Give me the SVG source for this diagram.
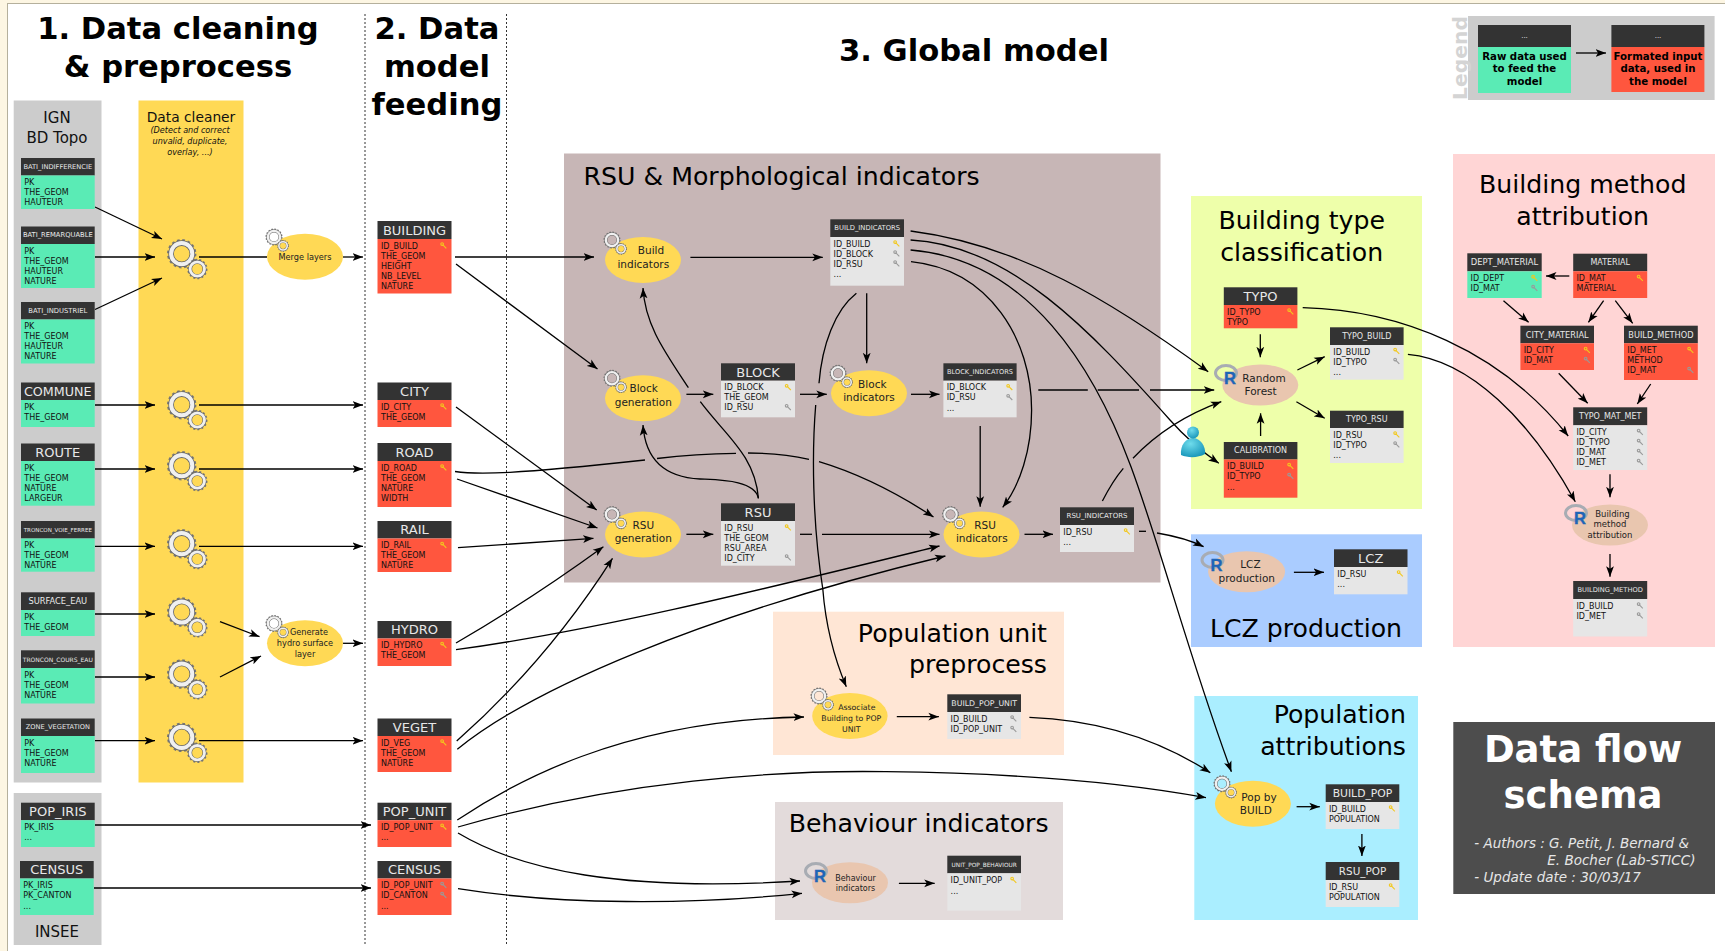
<svg xmlns="http://www.w3.org/2000/svg" width="1725" height="951" viewBox="0 0 1725 951">
<style>
text{font-family:"DejaVu Sans","Liberation Sans",sans-serif}
.hd{fill:#333}
.gn{fill:#5aebb5}
.rd{fill:#ff563e}
.gy{fill:#e6e6e6}
.ht{fill:#e8e8e8;text-anchor:middle;dominant-baseline:central}
.b{font-size:8px;fill:#111}
.ky{stroke:#f2c81e;fill:none;stroke-width:1.1}
.kg{stroke:#9a9a9a;fill:none;stroke-width:1.1}
.ty{fill:#ffd955}
.tr{fill:#e9c6af}
.e{fill:#222;text-anchor:middle}
.e8{font-size:8.2px}
.e10{font-size:10.5px}
.pt{font-size:25.2px;fill:#000}
.m{text-anchor:middle}
.big{font-size:30.6px;font-weight:bold;text-anchor:middle;fill:#000}
.c path,.c line{fill:none;stroke:#000;stroke-width:1.3}
.a{marker-end:url(#ar)}
.lg{font-size:10.2px;font-weight:bold;text-anchor:middle;fill:#000}
</style>
<defs>
<marker id="ar" markerUnits="userSpaceOnUse" markerWidth="12" markerHeight="9" refX="10.5" refY="4.5" orient="auto"><path d="M10.5,4.5 L0,0.6 L2.6,4.5 L0,8.4 Z" fill="#000"/></marker>
<radialGradient id="ub" cx=".4" cy=".3" r=".8"><stop offset="0" stop-color="#6fdcec"/><stop offset="1" stop-color="#0f8fb5"/></radialGradient>
<g id="k1"><circle cx="-1.4" cy="-1.4" r="1.3"/><path d="M-.6,-.6 L2.8,2.8"/></g>
<g id="g1"><circle r="13.2" fill="none" stroke="#777" stroke-width="3" stroke-dasharray="2.6 2.6"/><circle r="10.6" fill="none" stroke="#666" stroke-width="5.6"/><circle r="10.6" fill="none" stroke="#f0f0f0" stroke-width="4"/></g>
<g id="g2"><circle r="9" fill="none" stroke="#777" stroke-width="2.4" stroke-dasharray="2 2"/><circle r="7.2" fill="none" stroke="#666" stroke-width="4"/><circle r="7.2" fill="none" stroke="#f0f0f0" stroke-width="2.8"/></g>
<g id="gr"><use href="#g1"/><use href="#g2" x="15.6" y="15.3"/></g>
<g id="rl"><ellipse cx="-4" cy="-5" rx="10.5" ry="7.5" fill="none" stroke="#a8acb3" stroke-width="3"/><text x="0" y="5.5" font-size="16.5" font-weight="bold" fill="#1f65b7" stroke="#1f65b7" stroke-width=".4" text-anchor="middle" style="font-family:'Liberation Sans',sans-serif">R</text></g>
</defs>

<rect width="1725" height="951" fill="#fdf6e3"/>
<rect x="7.5" y="3.5" width="1718" height="948" fill="#fff" stroke="#b5b09c" stroke-width="1"/>

<g id="panels">
<rect x="13.7" y="100.5" width="87.8" height="682" fill="#ccc"/>
<rect x="13.7" y="793" width="87.8" height="152" fill="#ccc"/>
<rect x="138.5" y="100.5" width="105" height="682" fill="#ffd955"/>
<rect x="564" y="153.5" width="596.5" height="429" fill="#c7b6b6"/>
<rect x="1191" y="196" width="231" height="313" fill="#eeffaa"/>
<rect x="1453" y="154" width="262" height="493" fill="#ffd5d5"/>
<rect x="1191" y="534.3" width="231" height="112.7" fill="#aaccff"/>
<rect x="773" y="611.7" width="291" height="143.3" fill="#ffe6d5"/>
<rect x="775" y="802" width="288" height="118" fill="#e3dbdb"/>
<rect x="1194.3" y="696" width="223.7" height="224" fill="#aaeeff"/>
<rect x="1468" y="16" width="246.6" height="84" fill="#ccc"/>
<line x1="365" y1="14" x2="365" y2="945" stroke="#333" stroke-dasharray="2 2"/>
<line x1="506.5" y1="14" x2="506.5" y2="945" stroke="#333" stroke-dasharray="2 2"/>
</g>

<g id="titles">
<text class="big" x="178" y="38.5">1. Data cleaning</text>
<text class="big" x="178" y="77">&amp; preprocess</text>
<text class="big" x="437" y="38.5">2. Data</text>
<text class="big" x="437" y="77">model</text>
<text class="big" x="437" y="115">feeding</text>
<text class="big" x="974" y="61">3. Global model</text>
<text class="m" x="57" y="123" font-size="15" fill="#111">IGN</text>
<text class="m" x="57" y="142.7" font-size="15" fill="#111">BD Topo</text>
<text class="m" x="57" y="937.3" font-size="15" fill="#111">INSEE</text>
<text class="m" x="191" y="121.7" font-size="13.8" fill="#111">Data cleaner</text>
<text class="m" x="190" y="133.3" font-size="8.1" font-style="italic" fill="#111">(Detect and correct</text>
<text class="m" x="190" y="144" font-size="8.1" font-style="italic" fill="#111">unvalid, duplicate,</text>
<text class="m" x="190" y="154.7" font-size="8.1" font-style="italic" fill="#111">overlay, ...)</text>
<text class="pt" x="583.6" y="185">RSU &amp; Morphological indicators</text>
<text class="pt m" x="1301.7" y="229">Building type</text>
<text class="pt m" x="1301.7" y="260.7">classification</text>
<text class="pt m" x="1582.7" y="193">Building method</text>
<text class="pt m" x="1582.7" y="225">attribution</text>
<text class="pt m" x="1306" y="636.7">LCZ production</text>
<text class="pt" text-anchor="end" x="1047" y="641.7">Population unit</text>
<text class="pt" text-anchor="end" x="1047" y="673.3">preprocess</text>
<text class="pt m" x="918.7" y="831.7">Behaviour indicators</text>
<text class="pt" text-anchor="end" x="1406" y="723.3">Population</text>
<text class="pt" text-anchor="end" x="1406" y="755">attributions</text>
<text x="1467" y="58" text-anchor="middle" font-size="20.3" font-weight="bold" fill="#d4d4d4" transform="rotate(-90 1467 58)">Legend</text>
</g>

<g id="connectors" class="c">
<line class="a" x1="95" y1="207" x2="162" y2="239"/>
<line class="a" x1="95" y1="257" x2="155" y2="257"/>
<line class="a" x1="95" y1="309.5" x2="162" y2="278"/>
<line class="a" x1="95" y1="405" x2="155" y2="405"/>
<line class="a" x1="199" y1="405" x2="363" y2="405"/>
<line class="a" x1="95" y1="469" x2="155" y2="469"/>
<line class="a" x1="199" y1="469" x2="363" y2="469"/>
<line class="a" x1="95" y1="546.3" x2="155" y2="546.3"/>
<line class="a" x1="199" y1="546.3" x2="363" y2="546.3"/>
<line class="a" x1="95" y1="614" x2="155" y2="614"/>
<line class="a" x1="95" y1="677" x2="155" y2="677"/>
<line class="a" x1="95" y1="740.7" x2="155" y2="740.7"/>
<line class="a" x1="199" y1="740.7" x2="363" y2="740.7"/>
<line x1="199" y1="257" x2="267" y2="257"/>
<line class="a" x1="343" y1="257" x2="363" y2="257"/>
<line class="a" x1="220" y1="621.7" x2="259.5" y2="636.7"/>
<line class="a" x1="220" y1="677" x2="261" y2="656"/>
<line class="a" x1="343" y1="643.3" x2="363" y2="643.3"/>
<line class="a" x1="95" y1="825" x2="371" y2="825"/>
<line class="a" x1="94" y1="888" x2="371" y2="888"/>

<line class="a" x1="455" y1="257" x2="594" y2="257"/>
<line class="a" x1="456" y1="264" x2="597.5" y2="369"/>
<line class="a" x1="456" y1="407" x2="596.7" y2="510"/>
<path d="M455,471.5 C478,475 515,474 645,460"/>
<path d="M657,458.5 C685,455 710,453.5 736,453.3"/>
<path d="M748,453 C770,453 790,455 809,459.3"/>
<path class="a" d="M819,461.7 C860,474 900,495 933.5,517"/>
<line class="a" x1="457" y1="479" x2="597.5" y2="528"/>
<line class="a" x1="458" y1="547.7" x2="593.5" y2="538.3"/>
<path class="a" d="M456,643 Q530,600 603.4,546.7"/>
<path class="a" d="M456,649.7 C600,630 760,590 939.5,546"/>
<path class="a" d="M456.7,741 C520,685 570,625 612.5,558.3"/>
<path class="a" d="M457.3,749.3 C530,690 700,615 945.4,556"/>
<path class="a" d="M457.3,820 C510,785 620,720 804,717"/>
<path class="a" d="M458,827 C620,780 780,770 886,771.7 C1000,773 1110,780 1206,797.7"/>
<path class="a" d="M458,833 C520,870 620,892 800,881"/>
<path class="a" d="M458,888.7 C560,905 690,905 802,893.3"/>

<line class="a" x1="690.4" y1="257.3" x2="822.8" y2="257.3"/>
<line class="a" x1="866.7" y1="293.3" x2="866.7" y2="363.3"/>
<path d="M856.4,293.3 C835,310 822,345 819,383.3"/>
<path class="a" d="M815.7,405 C812,450 812,520 822.8,589 C826,630 835,660 846.3,686.7"/>
<line class="a" x1="686.4" y1="394.3" x2="713.3" y2="394.3"/>
<path class="a" d="M688.4,387.7 C665,352 645,325 643,288"/>
<path class="a" d="M758.4,498.3 C755,480 720,480 700,479 C660,477 645,455 643,425"/>
<path d="M758.4,498.3 C755,455 725,435 700.3,401.7"/>
<line class="a" x1="686.4" y1="534.3" x2="713.3" y2="534.3"/>
<path d="M800,534.3 H812"/>
<line class="a" x1="822" y1="534.3" x2="939.5" y2="534.3"/>
<line class="a" x1="800" y1="394.3" x2="826.8" y2="394.3"/>
<line class="a" x1="911" y1="394.3" x2="939.5" y2="394.3"/>
<line class="a" x1="980.2" y1="426" x2="980.2" y2="506.7"/>
<path class="a" d="M911,261.7 C990,270 1031.6,340 1031.6,410 C1031.6,450 1020,485 1002.7,507.3"/>
<line class="a" x1="1024.5" y1="534.3" x2="1053" y2="534.3"/>
<path d="M1038.3,390 H1087.8"/>
<path d="M1097.7,390 H1139"/>
<line class="a" x1="1150" y1="390" x2="1214.2" y2="390"/>
<path d="M1139,531.3 H1146"/>
<path class="a" d="M1157,533 C1175,536 1190,540 1203.6,546.7"/>
<path d="M1102.4,501 C1108,490 1115,478 1123.3,468.3"/>
<path class="a" d="M1133,458.3 C1155,435 1185,415 1221.3,401.7"/>
<path class="a" d="M910.6,231 C1020,245 1110,300 1208.2,371.7"/>
<path class="a" d="M910.6,240 C1010,245 1090,330 1170,420 C1185,437 1200,450 1218.8,463.3"/>
<path class="a" d="M910.6,250 C1030,260 1095,370 1131,466.7 C1160,545 1190,660 1231.4,771.7"/>

<line class="a" x1="1260.3" y1="334.3" x2="1260.3" y2="357.3"/>
<line class="a" x1="1260.6" y1="436" x2="1260.6" y2="413.3"/>
<line class="a" x1="1297.4" y1="370" x2="1324.7" y2="356.7"/>
<line class="a" x1="1296.4" y1="401.7" x2="1324.7" y2="418.3"/>
<path class="a" d="M1302.7,307.7 C1400,310 1500,350 1568.2,436"/>
<path class="a" d="M1407.9,354.3 C1470,360 1530,420 1575.3,501.7"/>
<line class="a" x1="1569.3" y1="276" x2="1546" y2="276"/>
<line class="a" x1="1503.5" y1="300.7" x2="1528.6" y2="322.3"/>
<line class="a" x1="1603.6" y1="300.7" x2="1588.4" y2="322.3"/>
<line class="a" x1="1615.3" y1="300.7" x2="1632.7" y2="323.3"/>
<line class="a" x1="1558.7" y1="373.3" x2="1587.7" y2="403.3"/>
<line class="a" x1="1650.7" y1="384" x2="1637.3" y2="404"/>
<line class="a" x1="1610" y1="474.3" x2="1610" y2="497.3"/>
<line class="a" x1="1610" y1="554" x2="1610" y2="576.7"/>
<line class="a" x1="1293.9" y1="572.3" x2="1324" y2="572.3"/>
<line class="a" x1="896.8" y1="716.7" x2="938.9" y2="716.7"/>
<path class="a" d="M1029.4,717.3 C1100,720 1160,740 1210.3,772.7"/>
<line class="a" x1="1296.6" y1="806.7" x2="1319.8" y2="806.7"/>
<line class="a" x1="1361.9" y1="834" x2="1361.9" y2="856"/>
<line class="a" x1="898.9" y1="883.3" x2="934.7" y2="883.3"/>
<line class="a" x1="1576" y1="53" x2="1606" y2="53"/>
</g>

<g id="cleaner-gears">
<use href="#gr" transform="translate(181.7,253.7)"/>
<use href="#gr" transform="translate(181.7,404.7)"/>
<use href="#gr" transform="translate(181.7,465.7)"/>
<use href="#gr" transform="translate(181.7,543.7)"/>
<use href="#gr" transform="translate(181.7,612)"/>
<use href="#gr" transform="translate(181.7,674)"/>
<use href="#gr" transform="translate(181.7,737.4)"/>
</g>

<g id="n-bati-ind"><rect class="hd" x="21" y="158" width="73.7" height="17.5"/><rect class="gn" x="21" y="175.5" width="73.7" height="33.5"/><text class="ht" x="57.8" y="166.7" font-size="6.7">BATI_INDIFFERENCIE</text><text class="b" x="24.3" y="185">PK</text><text class="b" x="24.3" y="195">THE_GEOM</text><text class="b" x="24.3" y="205">HAUTEUR</text></g>
<g id="n-bati-rem"><rect class="hd" x="21" y="226.5" width="73.7" height="17.5"/><rect class="gn" x="21" y="244" width="73.7" height="44"/><text class="ht" x="57.8" y="235.2" font-size="6.75">BATI_REMARQUABLE</text><text class="b" x="24.3" y="253.5">PK</text><text class="b" x="24.3" y="263.5">THE_GEOM</text><text class="b" x="24.3" y="273.5">HAUTEUR</text><text class="b" x="24.3" y="283.5">NATURE</text></g>
<g id="n-bati-indus"><rect class="hd" x="21" y="302" width="73.7" height="17.5"/><rect class="gn" x="21" y="319.5" width="73.7" height="44"/><text class="ht" x="57.8" y="310.7" font-size="6.8">BATI_INDUSTRIEL</text><text class="b" x="24.3" y="329">PK</text><text class="b" x="24.3" y="339">THE_GEOM</text><text class="b" x="24.3" y="349">HAUTEUR</text><text class="b" x="24.3" y="359">NATURE</text></g>
<g id="n-commune"><rect class="hd" x="21" y="382.5" width="73.7" height="17.5"/><rect class="gn" x="21" y="400" width="73.7" height="27"/><text class="ht" x="57.8" y="391.2" font-size="12.7">COMMUNE</text><text class="b" x="24.3" y="409.5">PK</text><text class="b" x="24.3" y="419.5">THE_GEOM</text></g>
<g id="n-route"><rect class="hd" x="21" y="443.5" width="73.7" height="17.5"/><rect class="gn" x="21" y="461" width="73.7" height="44.7"/><text class="ht" x="57.8" y="452.2" font-size="13">ROUTE</text><text class="b" x="24.3" y="470.5">PK</text><text class="b" x="24.3" y="480.5">THE_GEOM</text><text class="b" x="24.3" y="490.5">NATURE</text><text class="b" x="24.3" y="500.5">LARGEUR</text></g>
<g id="n-voie"><rect class="hd" x="21" y="521" width="73.7" height="17.5"/><rect class="gn" x="21" y="538.5" width="73.7" height="33.2"/><text class="ht" x="57.8" y="529.7" font-size="5.55">TRONCON_VOIE_FERREE</text><text class="b" x="24.3" y="548">PK</text><text class="b" x="24.3" y="558">THE_GEOM</text><text class="b" x="24.3" y="568">NATURE</text></g>
<g id="n-surface"><rect class="hd" x="21" y="592.3" width="73.7" height="17.7"/><rect class="gn" x="21" y="610" width="73.7" height="26"/><text class="ht" x="57.8" y="601.1" font-size="8.3">SURFACE_EAU</text><text class="b" x="24.3" y="619.5">PK</text><text class="b" x="24.3" y="629.5">THE_GEOM</text></g>
<g id="n-cours"><rect class="hd" x="21" y="650.3" width="73.7" height="17.7"/><rect class="gn" x="21" y="668" width="73.7" height="35.5"/><text class="ht" x="57.8" y="659.1" font-size="6">TRONCON_COURS_EAU</text><text class="b" x="24.3" y="677.5">PK</text><text class="b" x="24.3" y="687.5">THE_GEOM</text><text class="b" x="24.3" y="697.5">NATURE</text></g>
<g id="n-zone"><rect class="hd" x="21" y="718.5" width="73.7" height="17.5"/><rect class="gn" x="21" y="736" width="73.7" height="37"/><text class="ht" x="57.8" y="727.2" font-size="6.65">ZONE_VEGETATION</text><text class="b" x="24.3" y="745.5">PK</text><text class="b" x="24.3" y="755.5">THE_GEOM</text><text class="b" x="24.3" y="765.5">NATURE</text></g>
<g id="n-pop-iris"><rect class="hd" x="21" y="802.7" width="73.7" height="17.5"/><rect class="gn" x="21" y="820.2" width="73.7" height="26.8"/><text class="ht" x="57.8" y="811.4" font-size="13">POP_IRIS</text><text class="b" x="24.3" y="829.7">PK_IRIS</text><text class="b" x="24.3" y="840">...</text></g>
<g id="n-census-in"><rect class="hd" x="20" y="861" width="73.7" height="17.5"/><rect class="gn" x="20" y="878.5" width="73.7" height="36.5"/><text class="ht" x="56.8" y="869.7" font-size="13">CENSUS</text><text class="b" x="23.3" y="888">PK_IRIS</text><text class="b" x="23.3" y="898">PK_CANTON</text><text class="b" x="23.3" y="908.5">...</text></g>

<g id="n-building"><rect class="hd" x="377.5" y="221" width="74" height="18"/><rect class="rd" x="377.5" y="239" width="74" height="54.5"/><text class="ht" x="414.5" y="230" font-size="13">BUILDING</text><text class="b" x="381" y="248.5">ID_BUILD</text><text class="b" x="381" y="258.5">THE_GEOM</text><text class="b" x="381" y="268.5">HEIGHT</text><text class="b" x="381" y="278.5">NB_LEVEL</text><text class="b" x="381" y="288.5">NATURE</text><use href="#k1" class="ky" x="443.5" y="245.5"/></g>
<g id="n-city"><rect class="hd" x="377.5" y="382.5" width="74" height="17.5"/><rect class="rd" x="377.5" y="400" width="74" height="27"/><text class="ht" x="414.5" y="391.2" font-size="13">CITY</text><text class="b" x="381" y="409.5">ID_CITY</text><text class="b" x="381" y="419.5">THE_GEOM</text><use href="#k1" class="ky" x="443.5" y="406.5"/></g>
<g id="n-road"><rect class="hd" x="377.5" y="443" width="74" height="18"/><rect class="rd" x="377.5" y="461" width="74" height="46"/><text class="ht" x="414.5" y="452" font-size="13">ROAD</text><text class="b" x="381" y="470.5">ID_ROAD</text><text class="b" x="381" y="480.5">THE_GEOM</text><text class="b" x="381" y="490.5">NATURE</text><text class="b" x="381" y="500.5">WIDTH</text><use href="#k1" class="ky" x="443.5" y="467.5"/></g>
<g id="n-rail"><rect class="hd" x="377.5" y="521" width="74" height="17.5"/><rect class="rd" x="377.5" y="538.5" width="74" height="33.5"/><text class="ht" x="414.5" y="529.7" font-size="13">RAIL</text><text class="b" x="381" y="548">ID_RAIL</text><text class="b" x="381" y="558">THE_GEOM</text><text class="b" x="381" y="568">NATURE</text><use href="#k1" class="ky" x="443.5" y="545"/></g>
<g id="n-hydro"><rect class="hd" x="377.5" y="621" width="74" height="17.5"/><rect class="rd" x="377.5" y="638.5" width="74" height="27.5"/><text class="ht" x="414.5" y="629.7" font-size="13">HYDRO</text><text class="b" x="381" y="648">ID_HYDRO</text><text class="b" x="381" y="658">THE_GEOM</text><use href="#k1" class="ky" x="443.5" y="645"/></g>
<g id="n-veget"><rect class="hd" x="377.5" y="718.5" width="74" height="17.5"/><rect class="rd" x="377.5" y="736" width="74" height="36"/><text class="ht" x="414.5" y="727.2" font-size="13">VEGET</text><text class="b" x="381" y="745.5">ID_VEG</text><text class="b" x="381" y="755.5">THE_GEOM</text><text class="b" x="381" y="765.5">NATURE</text><use href="#k1" class="ky" x="443.5" y="742.5"/></g>
<g id="n-pop-unit"><rect class="hd" x="377.5" y="802.7" width="74" height="17.5"/><rect class="rd" x="377.5" y="820.2" width="74" height="26.8"/><text class="ht" x="414.5" y="811.4" font-size="13">POP_UNIT</text><text class="b" x="381" y="829.7">ID_POP_UNIT</text><text class="b" x="381" y="840">...</text><use href="#k1" class="ky" x="443.5" y="826.7"/></g>
<g id="n-census"><rect class="hd" x="377.5" y="861" width="74" height="17.5"/><rect class="rd" x="377.5" y="878.5" width="74" height="36.5"/><text class="ht" x="414.5" y="869.7" font-size="13">CENSUS</text><text class="b" x="381" y="888">ID_POP_UNIT</text><text class="b" x="381" y="898">ID_CANTON</text><text class="b" x="381" y="908.5">...</text><use href="#k1" class="kg" x="443.5" y="885"/><use href="#k1" class="kg" x="443.5" y="895"/></g>

<g id="n-build-ind-t"><rect class="hd" x="830.3" y="219.3" width="73.7" height="17.7"/><rect class="gy" x="830.3" y="237" width="73.7" height="48.7"/><text class="ht" x="867.2" y="228.1" font-size="6.8">BUILD_INDICATORS</text><text class="b" x="833.6" y="246.5">ID_BUILD</text><text class="b" x="833.6" y="256.5">ID_BLOCK</text><text class="b" x="833.6" y="266.5">ID_RSU</text><text class="b" x="833.6" y="277">...</text><use href="#k1" class="ky" x="896.5" y="243.5"/><use href="#k1" class="kg" x="896.5" y="253.5"/><use href="#k1" class="kg" x="896.5" y="263.5"/></g>
<g id="n-block"><rect class="hd" x="721" y="363.3" width="74" height="17.4"/><rect class="gy" x="721" y="380.7" width="74" height="36.6"/><text class="ht" x="758" y="372" font-size="13">BLOCK</text><text class="b" x="724.3" y="390.2">ID_BLOCK</text><text class="b" x="724.3" y="400.2">THE_GEOM</text><text class="b" x="724.3" y="410.2">ID_RSU</text><use href="#k1" class="ky" x="788" y="387.2"/><use href="#k1" class="kg" x="788" y="407.2"/></g>
<g id="n-block-ind-t"><rect class="hd" x="943.4" y="363.3" width="73.2" height="17.4"/><rect class="gy" x="943.4" y="380.7" width="73.2" height="36.6"/><text class="ht" x="980" y="372" font-size="6.6">BLOCK_INDICATORS</text><text class="b" x="946.7" y="390.2">ID_BLOCK</text><text class="b" x="946.7" y="400.2">ID_RSU</text><text class="b" x="946.7" y="410.7">...</text><use href="#k1" class="ky" x="1009.5" y="387.2"/><use href="#k1" class="kg" x="1009.5" y="397.2"/></g>
<g id="n-rsu"><rect class="hd" x="721" y="503.3" width="74" height="17.7"/><rect class="gy" x="721" y="521" width="74" height="44.7"/><text class="ht" x="758" y="512.1" font-size="13">RSU</text><text class="b" x="724.3" y="530.5">ID_RSU</text><text class="b" x="724.3" y="540.5">THE_GEOM</text><text class="b" x="724.3" y="550.5">RSU_AREA</text><text class="b" x="724.3" y="560.5">ID_CITY</text><use href="#k1" class="ky" x="788" y="527.5"/><use href="#k1" class="kg" x="788" y="557.5"/></g>
<g id="n-rsu-ind-t"><rect class="hd" x="1060" y="507.3" width="74" height="17.7"/><rect class="gy" x="1060" y="525" width="74" height="27"/><text class="ht" x="1097" y="516.1" font-size="7">RSU_INDICATORS</text><text class="b" x="1063.3" y="534.5">ID_RSU</text><text class="b" x="1063.3" y="545">...</text><use href="#k1" class="ky" x="1127" y="531.5"/></g>

<g id="n-typo"><rect class="hd" x="1223.8" y="287.3" width="73.6" height="17.7"/><rect class="rd" x="1223.8" y="305" width="73.6" height="23.3"/><text class="ht" x="1260.6" y="296.1" font-size="13">TYPO</text><text class="b" x="1227.1" y="314.5">ID_TYPO</text><text class="b" x="1227.1" y="324.5">TYPO</text><use href="#k1" class="ky" x="1290.5" y="311.5"/></g>
<g id="n-typo-build"><rect class="hd" x="1330" y="327.3" width="73.6" height="17.7"/><rect class="gy" x="1330" y="345" width="73.6" height="34.7"/><text class="ht" x="1366.8" y="336.1" font-size="8">TYPO_BUILD</text><text class="b" x="1333.3" y="354.5">ID_BUILD</text><text class="b" x="1333.3" y="364.5">ID_TYPO</text><text class="b" x="1333.3" y="375">...</text><use href="#k1" class="ky" x="1396.5" y="351"/><use href="#k1" class="kg" x="1396.5" y="361"/></g>
<g id="n-typo-rsu"><rect class="hd" x="1330" y="410.7" width="73.6" height="17.3"/><rect class="gy" x="1330" y="428" width="73.6" height="35"/><text class="ht" x="1366.8" y="419.3" font-size="8">TYPO_RSU</text><text class="b" x="1333.3" y="437.5">ID_RSU</text><text class="b" x="1333.3" y="447.5">ID_TYPO</text><text class="b" x="1333.3" y="458">...</text><use href="#k1" class="ky" x="1396.5" y="434.5"/><use href="#k1" class="kg" x="1396.5" y="444.5"/></g>
<g id="n-calibration"><rect class="hd" x="1223.8" y="442" width="73.6" height="17.5"/><rect class="rd" x="1223.8" y="459.5" width="73.6" height="38.2"/><text class="ht" x="1260.6" y="450.7" font-size="8">CALIBRATION</text><text class="b" x="1227.1" y="469">ID_BUILD</text><text class="b" x="1227.1" y="479">ID_TYPO</text><text class="b" x="1227.1" y="489.5">...</text><use href="#k1" class="ky" x="1290.5" y="466"/><use href="#k1" class="kg" x="1290.5" y="476"/></g>
<g id="n-lcz"><rect class="hd" x="1334" y="549.3" width="73.5" height="17.7"/><rect class="gy" x="1334" y="567" width="73.5" height="27.3"/><text class="ht" x="1370.7" y="558.1" font-size="13">LCZ</text><text class="b" x="1337.3" y="576.5">ID_RSU</text><text class="b" x="1337.3" y="587">...</text><use href="#k1" class="ky" x="1400" y="573.5"/></g>

<g id="n-dept"><rect class="hd" x="1467.3" y="253.3" width="74.4" height="18"/><rect class="gn" x="1467.3" y="271.3" width="74.4" height="26.7"/><text class="ht" x="1504.5" y="262.3" font-size="8.4">DEPT_MATERIAL</text><text class="b" x="1470.6" y="280.8">ID_DEPT</text><text class="b" x="1470.6" y="290.8">ID_MAT</text><use href="#k1" class="ky" x="1534.5" y="278"/><use href="#k1" class="kg" x="1534.5" y="288"/></g>
<g id="n-material"><rect class="hd" x="1573.2" y="253.7" width="74" height="17.6"/><rect class="rd" x="1573.2" y="271.3" width="74" height="26.7"/><text class="ht" x="1610.2" y="262.5" font-size="8">MATERIAL</text><text class="b" x="1576.5" y="280.8">ID_MAT</text><text class="b" x="1576.5" y="290.8">MATERIAL</text><use href="#k1" class="ky" x="1640" y="278"/></g>
<g id="n-city-mat"><rect class="hd" x="1520.4" y="325.7" width="73.6" height="17.6"/><rect class="rd" x="1520.4" y="343.3" width="73.6" height="26.7"/><text class="ht" x="1557.2" y="334.5" font-size="8.2">CITY_MATERIAL</text><text class="b" x="1523.7" y="352.8">ID_CITY</text><text class="b" x="1523.7" y="362.8">ID_MAT</text><use href="#k1" class="ky" x="1587" y="350"/><use href="#k1" class="kg" x="1587" y="360"/></g>
<g id="n-build-method"><rect class="hd" x="1624" y="325.7" width="73.8" height="17.6"/><rect class="rd" x="1624" y="343.3" width="73.8" height="36.7"/><text class="ht" x="1660.9" y="334.5" font-size="8.2">BUILD_METHOD</text><text class="b" x="1627.3" y="352.8">ID_MET</text><text class="b" x="1627.3" y="362.8">METHOD</text><text class="b" x="1627.3" y="372.8">ID_MAT</text><use href="#k1" class="ky" x="1690.5" y="350"/><use href="#k1" class="kg" x="1690.5" y="370"/></g>
<g id="n-typo-mat"><rect class="hd" x="1573.2" y="407.3" width="74" height="18"/><rect class="gy" x="1573.2" y="425.3" width="74" height="44.7"/><text class="ht" x="1610.2" y="416.3" font-size="8">TYPO_MAT_MET</text><text class="b" x="1576.5" y="434.8">ID_CITY</text><text class="b" x="1576.5" y="444.8">ID_TYPO</text><text class="b" x="1576.5" y="454.8">ID_MAT</text><text class="b" x="1576.5" y="464.8">ID_MET</text><use href="#k1" class="kg" x="1640" y="432"/><use href="#k1" class="kg" x="1640" y="442"/><use href="#k1" class="kg" x="1640" y="452"/><use href="#k1" class="kg" x="1640" y="462"/></g>
<g id="n-building-method"><rect class="hd" x="1573.2" y="581" width="74" height="18"/><rect class="gy" x="1573.2" y="599" width="74" height="37.5"/><text class="ht" x="1610.2" y="590" font-size="6.7">BUILDING_METHOD</text><text class="b" x="1576.5" y="608.5">ID_BUILD</text><text class="b" x="1576.5" y="618.5">ID_MET</text><use href="#k1" class="kg" x="1640" y="605.5"/><use href="#k1" class="kg" x="1640" y="615.5"/></g>

<g id="n-bpu"><rect class="hd" x="947.3" y="694.3" width="73.7" height="17.7"/><rect class="gy" x="947.3" y="712" width="73.7" height="27"/><text class="ht" x="984.2" y="703.1" font-size="7.8">BUILD_POP_UNIT</text><text class="b" x="950.6" y="721.5">ID_BUILD</text><text class="b" x="950.6" y="731.5">ID_POP_UNIT</text><use href="#k1" class="kg" x="1013.5" y="718.5"/><use href="#k1" class="kg" x="1013.5" y="729"/></g>
<g id="n-upb"><rect class="hd" x="947.3" y="855.7" width="73.7" height="17.6"/><rect class="gy" x="947.3" y="873.3" width="73.7" height="37.4"/><text class="ht" x="984.2" y="864.5" font-size="5.8">UNIT_POP_BEHAVIOUR</text><text class="b" x="950.6" y="882.8">ID_UNIT_POP</text><text class="b" x="950.6" y="893.5">...</text><use href="#k1" class="ky" x="1013.5" y="880"/></g>
<g id="n-build-pop"><rect class="hd" x="1325.7" y="784.3" width="73.6" height="17.7"/><rect class="gy" x="1325.7" y="802" width="73.6" height="27"/><text class="ht" x="1362.5" y="793.1" font-size="10.8">BUILD_POP</text><text class="b" x="1329" y="811.5">ID_BUILD</text><text class="b" x="1329" y="821.5">POPULATION</text><use href="#k1" class="ky" x="1392" y="808.5"/></g>
<g id="n-rsu-pop"><rect class="hd" x="1325.7" y="862" width="73.6" height="18"/><rect class="gy" x="1325.7" y="880" width="73.6" height="27"/><text class="ht" x="1362.5" y="871" font-size="10.4">RSU_POP</text><text class="b" x="1329" y="889.5">ID_RSU</text><text class="b" x="1329" y="899.5">POPULATION</text><use href="#k1" class="ky" x="1392" y="886.5"/></g>

<g id="p-merge"><ellipse class="ty" cx="305" cy="256.7" rx="38" ry="23"/><use href="#gr" transform="translate(274,237) scale(.58)"/><text class="e e8" x="305" y="260">Merge layers</text></g>
<g id="p-hydro"><ellipse class="ty" cx="305" cy="643.3" rx="38" ry="23"/><use href="#gr" transform="translate(274,623.5) scale(.58)"/><text class="e e8" x="309" y="635">Generate</text><text class="e e8" x="305" y="645.7">hydro surface</text><text class="e e8" x="305" y="656.7">layer</text></g>
<g id="p-build"><ellipse class="ty" cx="643" cy="260" rx="38" ry="23"/><use href="#gr" transform="translate(612,240) scale(.58)"/><text class="e e10" x="651" y="254">Build</text><text class="e e10" x="643.3" y="267.7">indicators</text></g>
<g id="p-block"><ellipse class="ty" cx="643" cy="398.3" rx="38" ry="23"/><use href="#gr" transform="translate(612,378.3) scale(.58)"/><text class="e e10" x="643.7" y="392.3">Block</text><text class="e e10" x="643.3" y="406">generation</text></g>
<g id="p-rsu"><ellipse class="ty" cx="643" cy="534.5" rx="38" ry="23"/><use href="#gr" transform="translate(612,514.5) scale(.58)"/><text class="e e10" x="643.3" y="529">RSU</text><text class="e e10" x="643.3" y="542.3">generation</text></g>
<g id="p-block-ind"><ellipse class="ty" cx="869" cy="393.3" rx="38" ry="23"/><use href="#gr" transform="translate(838,373.3) scale(.58)"/><text class="e e10" x="872.3" y="387.7">Block</text><text class="e e10" x="869" y="401">indicators</text></g>
<g id="p-rsu-ind"><ellipse class="ty" cx="981.5" cy="534.5" rx="38" ry="23"/><use href="#gr" transform="translate(950.5,514.5) scale(.58)"/><text class="e e10" x="985" y="529">RSU</text><text class="e e10" x="981.8" y="542.3">indicators</text></g>
<g id="p-assoc"><ellipse class="ty" cx="849.9" cy="716" rx="37.7" ry="23"/><use href="#gr" transform="translate(819,696) scale(.58)"/><text class="e" font-size="7.8" x="856.8" y="710">Associate</text><text class="e" font-size="7.8" x="851.3" y="720.7">Building to POP</text><text class="e" font-size="7.8" x="851.3" y="731.7">UNIT</text></g>
<g id="p-pop"><ellipse class="ty" cx="1252.9" cy="803.7" rx="38" ry="23"/><use href="#gr" transform="translate(1222,783.7) scale(.58)"/><text class="e e10" x="1259" y="801">Pop by</text><text class="e e10" x="1255.8" y="814.3">BUILD</text></g>

<g id="p-rf"><ellipse class="tr" cx="1260.3" cy="385" rx="38" ry="20.5"/><use href="#rl" x="1230" y="378"/><text class="e e10" x="1264" y="381.7">Random</text><text class="e e10" x="1260.6" y="395">Forest</text></g>
<g id="p-lcz"><ellipse class="tr" cx="1246.6" cy="571.7" rx="38.5" ry="20.5"/><use href="#rl" x="1216.5" y="565"/><text class="e e10" x="1250.4" y="568.3">LCZ</text><text class="e e10" x="1246.8" y="581.7">production</text></g>
<g id="p-bma"><ellipse class="tr" cx="1610" cy="525" rx="38" ry="20.5"/><use href="#rl" x="1580" y="518"/><text class="e" font-size="8.5" x="1612.5" y="516.7">Building</text><text class="e" font-size="8.5" x="1610" y="527.3">method</text><text class="e" font-size="8.5" x="1610" y="537.7">attribution</text></g>
<g id="p-beh"><ellipse class="tr" cx="850" cy="882.7" rx="38" ry="20.5"/><use href="#rl" x="820" y="876"/><text class="e" font-size="8" x="855.5" y="880.7">Behaviour</text><text class="e" font-size="8" x="855.5" y="891">indicators</text></g>

<g id="user"><path d="M1181,455 C1180,445 1186,438 1193,438 C1200,438 1206,446 1205,454 C1198,458 1188,458 1181,455Z" fill="url(#ub)"/><circle cx="1193" cy="432.5" r="6" fill="url(#ub)"/></g>

<g id="legend">
<rect class="hd" x="1478" y="25" width="93" height="22"/><rect class="gn" x="1478" y="47" width="93" height="46"/><text class="ht" x="1524.5" y="36" font-size="7">...</text>
<text class="lg" x="1524.5" y="59.5">Raw data used</text><text class="lg" x="1524.5" y="72">to feed the</text><text class="lg" x="1524.5" y="84.5">model</text>
<rect class="hd" x="1611.4" y="25" width="93" height="22"/><rect class="rd" x="1611.4" y="47" width="93" height="45"/><text class="ht" x="1658" y="36" font-size="7">...</text>
<text class="lg" x="1658" y="59.5">Formated input</text><text class="lg" x="1658" y="72">data, used in</text><text class="lg" x="1658" y="84.5">the model</text>
</g>

<g id="info">
<rect x="1453.3" y="722" width="261.7" height="172" fill="#4d4d4d"/>
<text x="1583" y="762" text-anchor="middle" font-size="37" font-weight="bold" fill="#fff">Data flow</text>
<text x="1583" y="808" text-anchor="middle" font-size="37" font-weight="bold" fill="#fff">schema</text>
<text x="1474.3" y="847.7" font-size="13.5" font-style="italic" fill="#e6e6e6">- Authors : G. Petit, J. Bernard &amp;</text>
<text x="1547.3" y="864.7" font-size="13.5" font-style="italic" fill="#e6e6e6">E. Bocher (Lab-STICC)</text>
<text x="1474.3" y="881.5" font-size="13.5" font-style="italic" fill="#e6e6e6">- Update date : 30/03/17</text>
</g>
</svg>
